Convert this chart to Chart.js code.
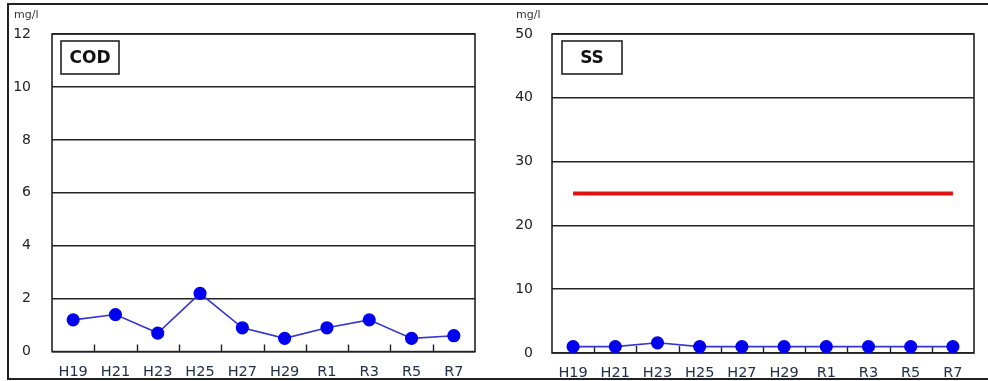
<!DOCTYPE html>
<html><head><meta charset="utf-8">
<script src="https://cdn.jsdelivr.net/npm/chart.js@4"></script>
<style>
html,body{margin:0;padding:0;background:#fff;}
body{width:988px;height:381px;position:relative;overflow:hidden;}
#frame{position:absolute;left:7px;top:3px;width:1000px;height:373px;border:2px solid #222;border-right:none;}
.panel{position:absolute;top:0;width:494px;height:381px;}
</style></head><body>
<div id="frame"></div>
<div class="panel" style="left:0"><canvas id="c1"></canvas></div>
<div class="panel" style="left:494px"><canvas id="c2"></canvas></div>
<script>
const categories = ['H19','H21','H23','H25','H27','H29','R1','R3','R5','R7'];
const codValues = [1.2, 1.4, 0.7, 2.2, 0.9, 0.5, 0.9, 1.2, 0.5, 0.6];
const ssValues = [1, 1, 1.6, 1, 1, 1, 1, 1, 1, 1];
const ssStandard = [25, 25, 25, 25, 25, 25, 25, 25, 25, 25];
const codAxis = {min: 0, max: 12, step: 2};
const ssAxis = {min: 0, max: 50, step: 10};
const unitLabel = 'mg/l';

const FONT = "'DejaVu Sans', 'Liberation Sans', sans-serif";

const framePlugin = {
  id: 'frameDeco',
  beforeDatasetsDraw(chart, args, opts) {
    const {ctx, chartArea: a} = chart;
    const xs = chart.scales.x;
    ctx.save();
    ctx.strokeStyle = '#222';
    ctx.lineWidth = 1.6;
    ctx.strokeRect(a.left, a.top, a.right - a.left, a.bottom - a.top);
    ctx.lineWidth = 1.4;
    ctx.beginPath();
    for (let i = 1; i < categories.length; i++) {
      const x = Math.round((xs.getPixelForValue(i - 1) + xs.getPixelForValue(i)) / 2) + 0.5;
      ctx.moveTo(x, a.bottom);
      ctx.lineTo(x, a.bottom - 7);
    }
    ctx.stroke();
    ctx.restore();
  },
  afterDraw(chart, args, opts) {
    const {ctx, chartArea: a} = chart;
    ctx.save();
    ctx.fillStyle = '#333';
    ctx.font = "11px " + FONT;
    ctx.textAlign = 'left';
    ctx.textBaseline = 'middle';
    ctx.fillText(unitLabel, opts.unitX, 15);
    const bx = a.left + opts.boxDx, by = a.top + 7, bw = opts.boxW, bh = 33;
    ctx.fillStyle = '#fff';
    ctx.fillRect(bx, by, bw, bh);
    ctx.strokeStyle = '#222';
    ctx.lineWidth = 1.6;
    ctx.strokeRect(bx, by, bw, bh);
    ctx.fillStyle = '#111';
    ctx.font = "bold 17px " + FONT;
    ctx.textAlign = 'center';
    ctx.fillText(opts.name, bx + bw / 2, by + bh / 2 + 1);
    ctx.restore();
  }
};

function makeChart(id, datasets, axis, cfg) {
  return new Chart(document.getElementById(id), {
    type: 'line',
    data: {labels: categories, datasets},
    options: {
      responsive: true,
      maintainAspectRatio: false,
      animation: false,
      layout: {padding: {left: 0, top: 34, right: cfg.padRight, bottom: 0}},
      plugins: {
        legend: {display: false},
        tooltip: {enabled: false},
        frameDeco: {name: cfg.name, boxDx: cfg.boxDx, boxW: cfg.boxW, unitX: cfg.unitX}
      },
      scales: {
        x: {
          offset: true,
          grid: {display: false, drawTicks: false},
          border: {display: false},
          ticks: {color: '#22304c', font: {family: FONT, size: 14.5}, padding: 12, maxRotation: 0, autoSkip: false},
          afterFit(s) { s.height = 28; }
        },
        y: {
          min: axis.min, max: axis.max,
          grid: {color: '#222', lineWidth: 1.5, drawTicks: false},
          border: {display: false},
          ticks: {stepSize: axis.step, color: '#222', font: {family: FONT, size: 14}, padding: cfg.yPad, crossAlign: 'near'},
          afterFit(s) { s.width = cfg.yWidth; }
        }
      }
    },
    plugins: [framePlugin]
  });
}

const blueStyle = {
  borderColor: '#3535d0', borderWidth: 1.6,
  pointBackgroundColor: '#0000f0', pointBorderColor: '#0000f0',
  pointRadius: 5.8, pointHoverRadius: 5.8, tension: 0, fill: false
};

makeChart('c1', [
  Object.assign({label: 'COD', data: codValues}, blueStyle)
], codAxis, {name: 'COD', padRight: 19, yWidth: 52, yPad: 21, boxDx: 9, boxW: 58, unitX: 14});

makeChart('c2', [
  {label: '環境基準', data: ssStandard, borderColor: '#e01010', borderWidth: 4, pointRadius: 0, fill: false},
  Object.assign({label: 'SS', data: ssValues}, blueStyle)
], ssAxis, {name: 'SS', padRight: 14, yWidth: 58, yPad: 19, boxDx: 10, boxW: 60, unitX: 22});
</script>
</body></html>
